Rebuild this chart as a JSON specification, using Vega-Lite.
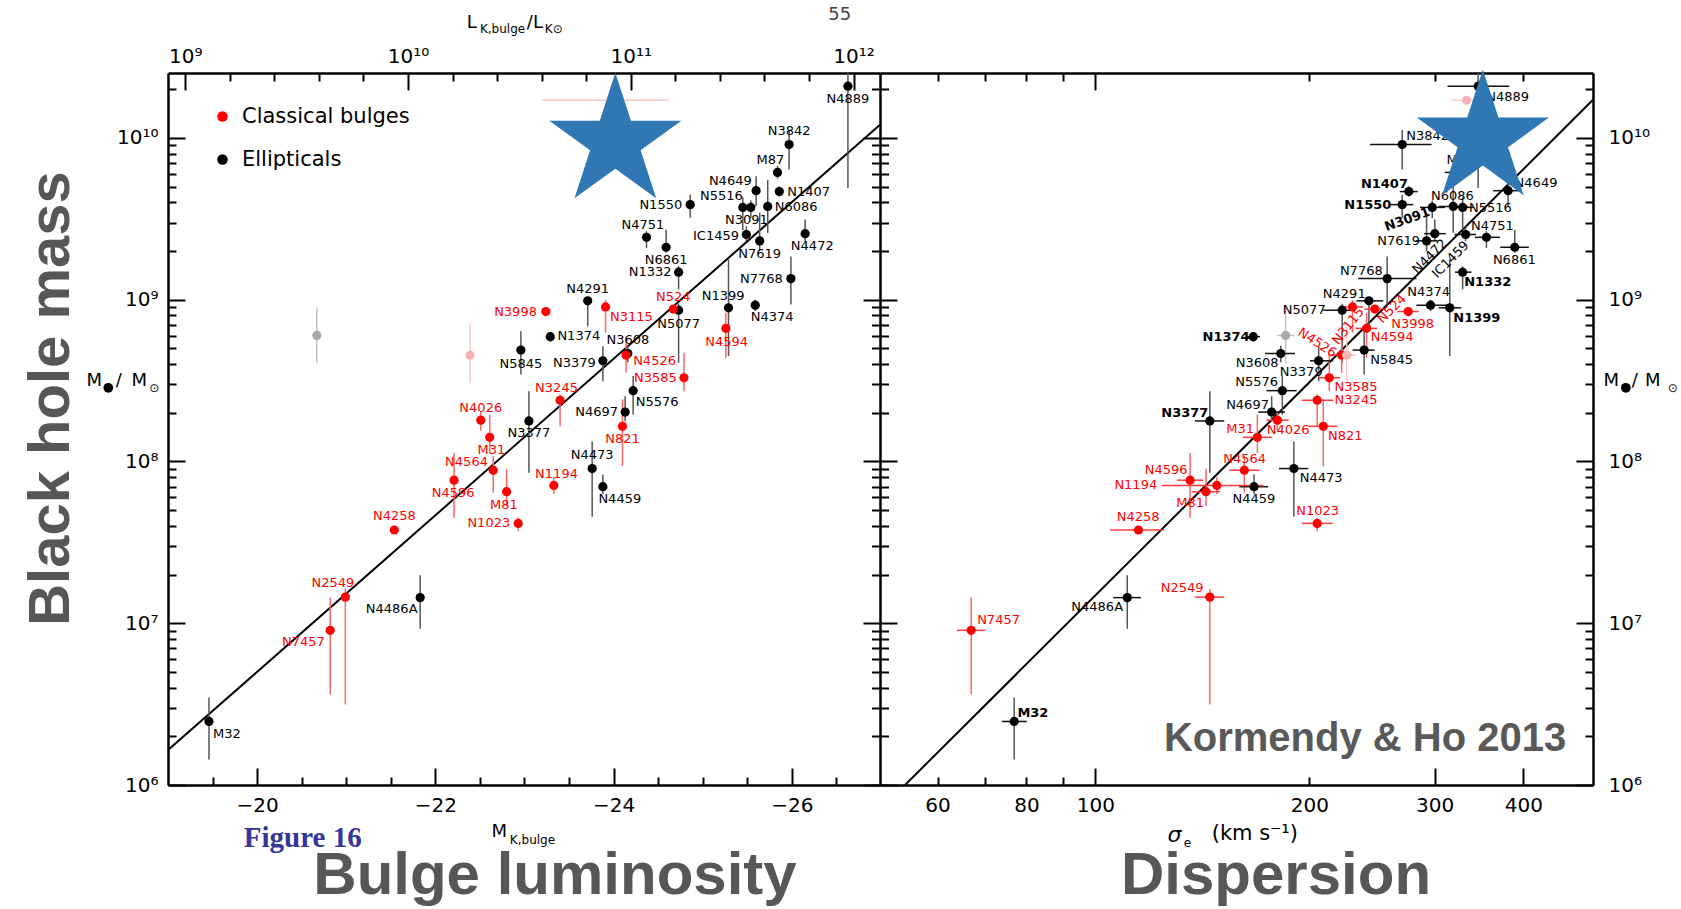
{
"$schema":"https://vega.github.io/schema/vega-lite/v6.json",
"width":1425,"height":712,
"autosize":{"type":"none"},
"padding":{"left":168,"top":73,"right":88,"bottom":124},
"background":"#ffffff",
"config":{"view":{"stroke":null},
"axis":{"domainColor":"#000000","domainWidth":2.5,"tickColor":"#000000","tickWidth":2,"labelFont":"DejaVu Sans","labelFontSize":20,"labelColor":"#000000","grid":false,"labelFlush":false,"labelOverlap":false,"labelBound":false,"titleColor":"#575757"}},
"datasets":{
"gal":[
{"n":"N4889","c":"E","mk":-26.63,"s":345.4,"s0":312.8,"s1":381.9,"m":2.09e10,"m0":4.9e9,"m1":3.7e10,"lx":-26.63,"ly":1.73e10,"rx":380.0,"ry":1.79e10},
{"n":"N3842","c":"E","mk":-25.97,"s":270.1,"s0":243.3,"s1":297.1,"m":9.1e9,"m0":6.37e9,"m1":1.12e10,"lx":-25.97,"ly":1.10e10,"rx":293.3,"ry":1.03e10},
{"n":"M87","c":"E","mk":-25.84,"s":324,"s0":310,"s1":338,"m":6.12e9,"m0":5.6e9,"m1":6.7e9,"lx":-25.76,"ly":7.35e9,"rx":326.2,"ry":7.35e9},
{"n":"N4649","c":"E","mk":-25.60,"s":380.6,"s0":362.6,"s1":397.4,"m":4.72e9,"m0":3.78e9,"m1":5.79e9,"lx":-25.31,"ly":5.45e9,"rx":416.6,"ry":5.27e9},
{"n":"N1407","c":"E","mk":-25.86,"s":276.0,"s0":268,"s1":284,"m":4.66e9,"m0":4.35e9,"m1":5.02e9,"lx":-26.19,"ly":4.64e9,"rx":255.0,"ry":5.2e9},
{"n":"N5516","c":"E","mk":-25.45,"s":328.5,"s0":317,"s1":340,"m":3.72e9,"m0":2.7e9,"m1":4.3e9,"lx":-25.21,"ly":4.36e9,"rx":359.3,"ry":3.7e9},
{"n":"N3091","c":"E","mk":-25.54,"s":297.7,"s0":286.1,"s1":310.1,"m":3.72e9,"m0":3.2e9,"m1":4.1e9,"lx":-25.49,"ly":3.1e9,"rx":274.5,"ry":3.13e9},
{"n":"N6086","c":"E","mk":-25.73,"s":318.6,"s0":304,"s1":334,"m":3.77e9,"m0":2.59e9,"m1":5.51e9,"lx":-26.05,"ly":3.75e9,"rx":317.7,"ry":4.4e9},
{"n":"N1550","c":"E","mk":-24.86,"s":270.1,"s0":259.5,"s1":279.9,"m":3.87e9,"m0":3.21e9,"m1":4.46e9,"lx":-24.53,"ly":3.87e9,"rx":241.7,"ry":3.87e9},
{"n":"N4751","c":"E","mk":-24.37,"s":354.8,"s0":341.7,"s1":370.6,"m":2.43e9,"m0":2.09e9,"m1":2.65e9,"lx":-24.33,"ly":2.88e9,"rx":361.7,"ry":2.84e9},
{"n":"N6861","c":"E","mk":-24.59,"s":388.9,"s0":371,"s1":407,"m":2.11e9,"m0":1.95e9,"m1":2.71e9,"lx":-24.59,"ly":1.77e9,"rx":388.3,"ry":1.75e9},
{"n":"IC1459","c":"E","mk":-25.49,"s":331.7,"s0":320,"s1":343,"m":2.53e9,"m0":2.3e9,"m1":2.84e9,"lx":-25.15,"ly":2.47e9,"rx":315.9,"ry":1.77e9},
{"n":"N7619","c":"E","mk":-25.64,"s":292.3,"s0":282,"s1":303,"m":2.31e9,"m0":2.0e9,"m1":3.44e9,"lx":-25.64,"ly":1.92e9,"rx":267.0,"ry":2.3e9},
{"n":"N4472","c":"E","mk":-26.15,"s":300.2,"s0":290,"s1":311,"m":2.56e9,"m0":2.3e9,"m1":3.13e9,"lx":-26.23,"ly":2.14e9,"rx":295.4,"ry":1.85e9},
{"n":"N1332","c":"E","mk":-24.73,"s":328.5,"s0":320.4,"s1":338.1,"m":1.48e9,"m0":1.16e9,"m1":1.61e9,"lx":-24.41,"ly":1.48e9,"rx":356.3,"ry":1.28e9},
{"n":"N7768","c":"E","mk":-25.99,"s":257.3,"s0":234.2,"s1":282.9,"m":1.35e9,"m0":9.33e8,"m1":1.85e9,"lx":-25.66,"ly":1.35e9,"rx":236.6,"ry":1.51e9},
{"n":"N1399","c":"E","mk":-25.29,"s":315.1,"s0":304,"s1":327,"m":8.91e8,"m0":4.48e8,"m1":1.77e9,"lx":-25.23,"ly":1.06e9,"rx":344.0,"ry":7.73e8},
{"n":"N4374","c":"E","mk":-25.59,"s":296.1,"s0":282.9,"s1":315.1,"m":9.25e8,"m0":8.5e8,"m1":1.0e9,"lx":-25.78,"ly":7.8e8,"rx":294.2,"ry":1.12e9},
{"n":"N5077","c":"E","mk":-24.73,"s":222.4,"s0":209.2,"s1":230.5,"m":8.61e8,"m0":4.07e8,"m1":9.45e8,"lx":-24.73,"ly":7.1e8,"rx":196.7,"ry":8.61e8},
{"n":"N4291","c":"E","mk":-23.71,"s":242.5,"s0":233.0,"s1":254.0,"m":9.84e8,"m0":6.85e8,"m1":1.03e9,"lx":-23.71,"ly":1.17e9,"rx":223.9,"ry":1.09e9},
{"n":"N1374","c":"E","mk":-23.29,"s":166.8,"s0":163,"s1":170.5,"m":5.91e8,"m0":5.5e8,"m1":6.3e8,"lx":-23.61,"ly":5.94e8,"rx":152.7,"ry":5.9e8},
{"n":"N5845","c":"E","mk":-22.96,"s":238.8,"s0":230,"s1":247,"m":4.88e8,"m0":3.45e8,"m1":6.38e8,"lx":-22.96,"ly":4.03e8,"rx":261.0,"ry":4.23e8},
{"n":"N3379","c":"E","mk":-23.88,"s":206.1,"s0":200.4,"s1":216.0,"m":4.19e8,"m0":3.13e8,"m1":5.15e8,"lx":-23.56,"ly":4.07e8,"rx":194.8,"ry":3.58e8},
{"n":"N3608","c":"E","mk":-24.16,"s":182.3,"s0":173.2,"s1":190.9,"m":4.65e8,"m0":4.1e8,"m1":5.2e8,"lx":-24.16,"ly":5.6e8,"rx":168.9,"ry":4.07e8},
{"n":"N5576","c":"E","mk":-24.22,"s":183.2,"s0":174.1,"s1":191.9,"m":2.74e8,"m0":1.95e8,"m1":3.37e8,"lx":-24.49,"ly":2.32e8,"rx":168.6,"ry":3.1e8},
{"n":"N4697","c":"E","mk":-24.13,"s":177.0,"s0":169.5,"s1":184.8,"m":2.02e8,"m0":1.77e8,"m1":2.53e8,"lx":-23.81,"ly":2.03e8,"rx":163.7,"ry":2.23e8},
{"n":"N3377","c":"E","mk":-23.05,"s":144.9,"s0":138.1,"s1":151.8,"m":1.78e8,"m0":8.51e7,"m1":2.72e8,"lx":-23.05,"ly":1.49e8,"rx":133.6,"ry":2.0e8},
{"n":"N4473","c":"E","mk":-23.76,"s":190.2,"s0":181.2,"s1":199.3,"m":9.04e7,"m0":4.55e7,"m1":1.33e8,"lx":-23.76,"ly":1.09e8,"rx":207.8,"ry":7.85e7},
{"n":"N4459","c":"E","mk":-23.88,"s":167.2,"s0":159.4,"s1":175.0,"m":6.98e7,"m0":6.28e7,"m1":8.32e7,"lx":-24.07,"ly":5.82e7,"rx":167.1,"ry":5.82e7},
{"n":"N4486A","c":"E","mk":-21.83,"s":110.9,"s0":106.0,"s1":115.9,"m":1.44e7,"m0":9.25e6,"m1":1.98e7,"lx":-21.51,"ly":1.23e7,"rx":100.6,"ry":1.26e7},
{"n":"M32","c":"E","mk":-19.46,"s":76.9,"s0":73.9,"s1":80.1,"m":2.47e6,"m0":1.44e6,"m1":3.47e6,"lx":-19.66,"ly":2.08e6,"rx":81.7,"ry":2.8e6},
{"n":"N3998","c":"C","mk":-23.24,"s":275.4,"s0":266,"s1":285,"m":8.45e8,"m0":7.9e8,"m1":9.0e8,"lx":-22.90,"ly":8.41e8,"rx":279.4,"ry":7.1e8},
{"n":"N3115","c":"C","mk":-23.91,"s":230.0,"s0":222,"s1":238,"m":9.02e8,"m0":6.24e8,"m1":9.96e8,"lx":-24.20,"ly":7.8e8,"rx":226.8,"ry":6.86e8},
{"n":"N524","c":"C","mk":-24.67,"s":247.2,"s0":239,"s1":256,"m":8.75e8,"m0":8.3e8,"m1":9.2e8,"lx":-24.67,"ly":1.04e9,"rx":261.2,"ry":8.77e8},
{"n":"N4594","c":"C","mk":-25.26,"s":240.7,"s0":232,"s1":249,"m":6.65e8,"m0":4.38e8,"m1":8.3e8,"lx":-25.27,"ly":5.46e8,"rx":261.4,"ry":5.89e8},
{"n":"N4526","c":"C","mk":-24.14,"s":222.0,"s0":214,"s1":230,"m":4.55e8,"m0":3.53e8,"m1":5.9e8,"lx":-24.46,"ly":4.17e8,"rx":205.1,"ry":5.41e8},
{"n":"N3585","c":"C","mk":-24.79,"s":213.3,"s0":206,"s1":221,"m":3.29e8,"m0":2.72e8,"m1":4.7e8,"lx":-24.47,"ly":3.29e8,"rx":232.6,"ry":2.88e8},
{"n":"N3245","c":"C","mk":-23.40,"s":205.1,"s0":195.1,"s1":216.0,"m":2.39e8,"m0":1.65e8,"m1":2.6e8,"lx":-23.36,"ly":2.85e8,"rx":232.6,"ry":2.39e8},
{"n":"N821","c":"C","mk":-24.10,"s":209.2,"s0":199.3,"s1":218.8,"m":1.65e8,"m0":9.35e7,"m1":2.42e8,"lx":-24.10,"ly":1.37e8,"rx":224.7,"ry":1.43e8},
{"n":"N4026","c":"C","mk":-22.51,"s":180.3,"s0":174,"s1":187,"m":1.8e8,"m0":1.55e8,"m1":2.05e8,"lx":-22.51,"ly":2.15e8,"rx":186.7,"ry":1.56e8},
{"n":"M31","c":"C","mk":-22.61,"s":169.0,"s0":161.3,"s1":177.2,"m":1.41e8,"m0":1.13e8,"m1":1.95e8,"lx":-22.63,"ly":1.17e8,"rx":159.8,"ry":1.59e8},
{"n":"N4564","c":"C","mk":-22.65,"s":162.0,"s0":154.3,"s1":170.1,"m":8.83e7,"m0":6.41e7,"m1":1.08e8,"lx":-22.35,"ly":9.91e7,"rx":162.2,"ry":1.04e8},
{"n":"N4596","c":"C","mk":-22.21,"s":135.9,"s0":130.2,"s1":141.8,"m":7.66e7,"m0":4.49e7,"m1":1.13e8,"lx":-22.20,"ly":6.41e7,"rx":125.8,"ry":8.83e7},
{"n":"M81","c":"C","mk":-22.80,"s":143.1,"s0":136.7,"s1":149.7,"m":6.5e7,"m0":5.3e7,"m1":9.0e7,"lx":-22.77,"ly":5.35e7,"rx":135.9,"ry":5.5e7},
{"n":"N1194","c":"C","mk":-23.33,"s":148.2,"s0":124.0,"s1":172.2,"m":7.11e7,"m0":6.3e7,"m1":8.0e7,"lx":-23.36,"ly":8.32e7,"rx":114.0,"ry":7.11e7},
{"n":"N1023","c":"C","mk":-22.93,"s":205.1,"s0":195.1,"s1":215.6,"m":4.14e7,"m0":3.7e7,"m1":4.5e7,"lx":-22.60,"ly":4.14e7,"rx":205.4,"ry":4.93e7},
{"n":"N4258","c":"C","mk":-21.54,"s":115.0,"s0":104.9,"s1":124.9,"m":3.77e7,"m0":3.7e7,"m1":3.85e7,"lx":-21.54,"ly":4.59e7,"rx":114.9,"ry":4.55e7},
{"n":"N2549","c":"C","mk":-20.99,"s":144.9,"s0":138.1,"s1":151.8,"m":1.45e7,"m0":3.15e6,"m1":1.63e7,"lx":-20.85,"ly":1.78e7,"rx":132.5,"ry":1.66e7},
{"n":"N7457","c":"C","mk":-20.82,"s":66.9,"s0":63.9,"s1":70.0,"m":9.04e6,"m0":3.63e6,"m1":1.44e7,"lx":-20.52,"ly":7.69e6,"rx":73.1,"ry":1.04e7},
{"n":"excluded-1","c":"Ex","mk":-20.67,"s":185.2,"s0":180,"s1":190.5,"m":6.01e8,"m0":4.04e8,"m1":8.91e8},
{"n":"excluded-2","c":"Cx","mk":-22.39,"s":225.6,"s0":219.5,"s1":233.0,"m":4.54e8,"m0":3.06e8,"m1":7.19e8},
{"n":"excluded-3","c":"Cx","mk":-24.02,"k0":-23.2,"k1":-24.62,"s":332.7,"s0":316.9,"s1":349.2,"m":1.71e10}
],
"fitL":[{"mk":-19,"m":1.644e6},{"mk":-26.99,"m":1.205e10}],
"fitR":[{"s":54.0,"m":1e6},{"s":501,"m":1.72e10}],
"star":[{"p":"L","mk":-24.02,"m":9.42e9},{"p":"R","s":350.7,"m":9.84e9}],
"dots":[{"p":"L","mk":-18.33,"m":2.854e8},{"p":"R","s":557.2,"m":2.854e8}],
"ax":[{"mk":-20,"lk":1e9,"s":100,"m":1e8}],
"tL18":[{"t":"M","mk":-18.0855,"m":2.915e8},{"t":"/","mk":-18.4143,"m":2.915e8},{"t":"M","mk":-18.5905,"m":2.915e8},{"t":"L","mk":-22.353,"m":4.76e10},{"t":"/L","mk":-23.0266,"m":4.76e10},{"t":"M","mk":-22.63,"m":4.8e5}],
"tL12":[{"t":"⊙","mk":-18.7903,"m":2.676e8},{"t":"K,bulge","mk":-22.50,"m":4.44e10},{"t":"K⊙","mk":-23.2286,"m":4.44e10},{"t":"K,bulge","mk":-22.836,"m":4.3e5}],
"tR18":[{"t":"M","s":518.2,"m":2.915e8},{"t":"/","s":567.9,"m":2.915e8},{"t":"M","s":592.9,"m":2.915e8}],
"tR12":[{"t":"⊙","s":638.3,"m":2.676e8},{"t":"e","s":133.2,"m":4.16e5}]
},
"layer":[
{"layer":[
 {"data":{"name":"fitL"},"mark":{"type":"line","color":"#000000","strokeWidth":2},
  "encoding":{"x":{"field":"mk","type":"quantitative","scale":{"domain":[-19,-26.99],"range":[0,712],"nice":false,"zero":false},"axis":null},
   "y":{"field":"m","type":"quantitative","scale":{"type":"log","domain":[1000000,25200000000],"nice":false},"axis":null}}},
 {"data":{"name":"gal"},"transform":[{"filter":"isValid(datum.m0)"}],"mark":{"type":"rule","strokeWidth":1.5,"clip":true},
  "encoding":{"x":{"field":"mk","type":"quantitative","scale":{"domain":[-19,-26.99],"range":[0,712],"nice":false,"zero":false},"axis":null},
   "y":{"field":"m0","type":"quantitative","scale":{"type":"log","domain":[1000000,25200000000],"nice":false},"axis":null},
   "y2":{"field":"m1"},
   "color":{"condition":[{"test":"datum.c=='C'","value":"#ff6666"},{"test":"datum.c=='Cx'","value":"#f9c9c9"},{"test":"datum.c=='Ex'","value":"#c4c4c4"}],"value":"#555555"}}},
 {"data":{"name":"gal"},"transform":[{"filter":"isValid(datum.k0)"}],"mark":{"type":"rule","strokeWidth":1.5,"color":"#f9c9c9"},
  "encoding":{"x":{"field":"k0","type":"quantitative","scale":{"domain":[-19,-26.99],"range":[0,712],"nice":false,"zero":false},"axis":null},
   "x2":{"field":"k1"},
   "y":{"field":"m","type":"quantitative","scale":{"type":"log","domain":[1000000,25200000000],"nice":false},"axis":null}}},
 {"data":{"name":"gal"},"mark":{"type":"point","filled":true,"size":85,"opacity":1},
  "encoding":{"x":{"field":"mk","type":"quantitative","scale":{"domain":[-19,-26.99],"range":[0,712],"nice":false,"zero":false},"axis":null},
   "y":{"field":"m","type":"quantitative","scale":{"type":"log","domain":[1000000,25200000000],"nice":false},"axis":null},
   "color":{"field":"c","type":"nominal","scale":{"domain":["C","E","Cx","Ex"],"range":["#ff0000","#000000","#f7b3b3","#a9a9a9"]},
    "legend":{"orient":"none","legendX":44,"legendY":33,"values":["C","E"],"labelExpr":"datum.value == 'C' ? 'Classical bulges' : 'Ellipticals'","title":null,"symbolType":"circle","symbolSize":110,"symbolStrokeWidth":0,"labelFont":"DejaVu Sans","labelFontSize":21,"labelOffset":9,"rowPadding":21,"padding":0,"labelLimit":400,
     "encode":{"labels":{"update":{"fill":{"signal":"datum.value === 'C' ? '#ff0000' : '#000000'"}}}}}}}},
 {"data":{"name":"gal"},"transform":[{"filter":"isValid(datum.lx)"}],"mark":{"type":"text","font":"DejaVu Sans","fontSize":13,"align":"center","baseline":"middle"},
  "encoding":{"x":{"field":"lx","type":"quantitative","scale":{"domain":[-19,-26.99],"range":[0,712],"nice":false,"zero":false},"axis":null},
   "y":{"field":"ly","type":"quantitative","scale":{"type":"log","domain":[1000000,25200000000],"nice":false},"axis":null},
   "text":{"field":"n"},
   "color":{"condition":{"test":"datum.c=='C'","value":"#ff0000"},"value":"#000000"}}},
 {"data":{"name":"star"},"transform":[{"filter":"datum.p=='L'"}],
  "mark":{"type":"point","shape":"M0,-1L0.2245,-0.309L0.9511,-0.309L0.3633,0.118L0.5878,0.809L0,0.382L-0.5878,0.809L-0.3633,0.118L-0.9511,-0.309L-0.2245,-0.309Z","filled":true,"size":19321,"color":"#2f78b4","opacity":1},
  "encoding":{"x":{"field":"mk","type":"quantitative","scale":{"domain":[-19,-26.99],"range":[0,712],"nice":false,"zero":false},"axis":null},
   "y":{"field":"m","type":"quantitative","scale":{"type":"log","domain":[1000000,25200000000],"nice":false},"axis":null}}},
 {"data":{"name":"tL18"},"mark":{"type":"text","font":"DejaVu Sans","fontSize":18,"align":"left","baseline":"alphabetic","color":"#000000"},
  "encoding":{"x":{"field":"mk","type":"quantitative","scale":{"domain":[-19,-26.99],"range":[0,712],"nice":false,"zero":false},"axis":null},
   "y":{"field":"m","type":"quantitative","scale":{"type":"log","domain":[1000000,25200000000],"nice":false},"axis":null},"text":{"field":"t"}}},
 {"data":{"name":"tL12"},"mark":{"type":"text","font":"DejaVu Sans","fontSize":12,"align":"left","baseline":"alphabetic","color":"#000000"},
  "encoding":{"x":{"field":"mk","type":"quantitative","scale":{"domain":[-19,-26.99],"range":[0,712],"nice":false,"zero":false},"axis":null},
   "y":{"field":"m","type":"quantitative","scale":{"type":"log","domain":[1000000,25200000000],"nice":false},"axis":null},"text":{"field":"t"}}},
 {"data":{"name":"dots"},"transform":[{"filter":"datum.p=='L'"}],"mark":{"type":"point","filled":true,"size":95,"color":"#000000","opacity":1},
  "encoding":{"x":{"field":"mk","type":"quantitative","scale":{"domain":[-19,-26.99],"range":[0,712],"nice":false,"zero":false},"axis":null},
   "y":{"field":"m","type":"quantitative","scale":{"type":"log","domain":[1000000,25200000000],"nice":false},"axis":null}}},
 {"data":{"values":[{"t":"55","mk":-26.539,"m":5.33e10}]},"mark":{"type":"text","font":"DejaVu Sans","fontSize":18,"align":"center","baseline":"alphabetic","color":"#444444"},
  "encoding":{"x":{"field":"mk","type":"quantitative","scale":{"domain":[-19,-26.99],"range":[0,712],"nice":false,"zero":false},"axis":null},
   "y":{"field":"m","type":"quantitative","scale":{"type":"log","domain":[1000000,25200000000],"nice":false},"axis":null},"text":{"field":"t"}}},
 {"data":{"values":[{"t":"Figure 16","mk":-19.851,"m":4.12e5}]},"mark":{"type":"text","font":"Liberation Serif","fontSize":29,"fontWeight":"bold","align":"left","baseline":"alphabetic","color":"#35359a"},
  "encoding":{"x":{"field":"mk","type":"quantitative","scale":{"domain":[-19,-26.99],"range":[0,712],"nice":false,"zero":false},"axis":null},
   "y":{"field":"m","type":"quantitative","scale":{"type":"log","domain":[1000000,25200000000],"nice":false},"axis":null},"text":{"field":"t"}}},
 {"data":{"name":"ax"},"mark":{"type":"point","opacity":0},
  "encoding":{"x":{"field":"mk","type":"quantitative","scale":{"domain":[-19,-26.99],"range":[0,712],"nice":false,"zero":false},
    "axis":{"orient":"bottom","values":[-20,-22,-24,-26],"format":"d","tickSize":-17,"labelPadding":43,"labelBaseline":"alphabetic","domain":true,
     "title":"Bulge luminosity","titleX":386.5,"titleY":108,"titleAngle":0,"titleAlign":"center","titleBaseline":"alphabetic","titleFont":"Liberation Sans","titleFontWeight":"bold","titleFontSize":60,"titleColor":"#575757","titleLimit":1000}},
   "y":{"field":"m","type":"quantitative","scale":{"type":"log","domain":[1000000,25200000000],"nice":false},
    "axis":{"orient":"left","values":[1e6,1e7,1e8,1e9,1e10],"tickSize":-17,"labelPadding":27,"labelBaseline":"middle","labelAlign":"right",
     "labelExpr":"datum.value >= 1e10 ? '10¹⁰' : datum.value >= 1e9 ? '10⁹' : datum.value >= 1e8 ? '10⁸' : datum.value >= 1e7 ? '10⁷' : '10⁶'",
     "title":"Black hole mass","titleX":-100,"titleY":325,"titleAngle":270,"titleAlign":"center","titleBaseline":"alphabetic","titleFont":"Liberation Sans","titleFontWeight":"bold","titleFontSize":58,"titleColor":"#575757","titleLimit":1000}}}},
 {"data":{"name":"ax"},"mark":{"type":"point","opacity":0},
  "encoding":{"x":{"field":"mk","type":"quantitative","scale":{"domain":[-19,-26.99],"range":[0,712],"nice":false,"zero":false},
    "axis":{"orient":"bottom","values":[-19.5,-20.5,-21,-21.5,-22.5,-23,-23.5,-24.5,-25,-25.5,-26.5],"tickSize":-8,"labels":false,"domain":false,"title":null}},
   "y":{"field":"m","type":"quantitative","scale":{"type":"log","domain":[1000000,25200000000],"nice":false},
    "axis":{"orient":"left","values":[2e6,3e6,4e6,5e6,6e6,7e6,8e6,9e6,2e7,3e7,4e7,5e7,6e7,7e7,8e7,9e7,2e8,3e8,4e8,5e8,6e8,7e8,8e8,9e8,2e9,3e9,4e9,5e9,6e9,7e9,8e9,9e9,2e10],"tickSize":-8,"labels":false,"domain":false,"title":null}}}}
 ],
 "resolve":{"axis":{"x":"independent","y":"independent"}}},
{"layer":[
 {"data":{"name":"ax"},"mark":{"type":"point","opacity":0},
  "encoding":{"x":{"field":"lk","type":"quantitative","scale":{"type":"log","domain":[836500000,1314600000000],"range":[0,712],"nice":false},
    "axis":{"orient":"top","values":[1e9,1e10,1e11,1e12],"tickSize":-17,"labelPadding":28,"labelBaseline":"alphabetic","domain":true,"title":null,
     "labelExpr":"datum.value >= 1e12 ? '10¹²' : datum.value >= 1e11 ? '10¹¹' : datum.value >= 1e10 ? '10¹⁰' : '10⁹'"}},
   "y":{"field":"m","type":"quantitative","scale":{"type":"log","domain":[1000000,25200000000],"nice":false},
    "axis":{"orient":"right","offset":-730,"values":[1e6,1e7,1e8,1e9,1e10],"tickSize":34,"labels":false,"domain":false,"title":null}}}},
 {"data":{"name":"ax"},"mark":{"type":"point","opacity":0},
  "encoding":{"x":{"field":"lk","type":"quantitative","scale":{"type":"log","domain":[836500000,1314600000000],"range":[0,712],"nice":false},
    "axis":{"orient":"top","values":[1.585e9,2.512e9,3.981e9,6.31e9,1.585e10,2.512e10,3.981e10,6.31e10,1.585e11,2.512e11,3.981e11,6.31e11],"tickSize":-8,"labels":false,"domain":false,"title":null}},
   "y":{"field":"m","type":"quantitative","scale":{"type":"log","domain":[1000000,25200000000],"nice":false},
    "axis":{"orient":"right","offset":-721.5,"values":[2e6,3e6,4e6,5e6,6e6,7e6,8e6,9e6,2e7,3e7,4e7,5e7,6e7,7e7,8e7,9e7,2e8,3e8,4e8,5e8,6e8,7e8,8e8,9e8,2e9,3e9,4e9,5e9,6e9,7e9,8e9,9e9,2e10],"tickSize":17,"labels":false,"domain":false,"title":null}}}}
 ],
 "resolve":{"axis":{"x":"independent","y":"independent"}}},
{"layer":[
 {"data":{"name":"fitR"},"mark":{"type":"line","color":"#000000","strokeWidth":2},
  "encoding":{"x":{"field":"s","type":"quantitative","scale":{"type":"log","domain":[49.8,501],"range":[712,1425],"nice":false},"axis":null},
   "y":{"field":"m","type":"quantitative","scale":{"type":"log","domain":[1000000,25200000000],"nice":false},"axis":null}}},
 {"data":{"name":"gal"},"transform":[{"filter":"isValid(datum.m0)"}],"mark":{"type":"rule","strokeWidth":1.5,"clip":true},
  "encoding":{"x":{"field":"s","type":"quantitative","scale":{"type":"log","domain":[49.8,501],"range":[712,1425],"nice":false},"axis":null},
   "y":{"field":"m0","type":"quantitative","scale":{"type":"log","domain":[1000000,25200000000],"nice":false},"axis":null},
   "y2":{"field":"m1"},
   "color":{"condition":[{"test":"datum.c=='C'","value":"#ff6666"},{"test":"datum.c=='Cx'","value":"#f9c9c9"},{"test":"datum.c=='Ex'","value":"#c4c4c4"}],"value":"#555555"}}},
 {"data":{"name":"gal"},"transform":[{"filter":"isValid(datum.s0)"}],"mark":{"type":"rule","strokeWidth":1.5,"clip":true},
  "encoding":{"x":{"field":"s0","type":"quantitative","scale":{"type":"log","domain":[49.8,501],"range":[712,1425],"nice":false},"axis":null},
   "x2":{"field":"s1"},
   "y":{"field":"m","type":"quantitative","scale":{"type":"log","domain":[1000000,25200000000],"nice":false},"axis":null},
   "color":{"condition":[{"test":"datum.c=='C'","value":"#ff3b3b"},{"test":"datum.c=='Cx'","value":"#f9c9c9"},{"test":"datum.c=='Ex'","value":"#c4c4c4"}],"value":"#111111"}}},
 {"data":{"name":"gal"},"mark":{"type":"point","filled":true,"size":85,"opacity":1},
  "encoding":{"x":{"field":"s","type":"quantitative","scale":{"type":"log","domain":[49.8,501],"range":[712,1425],"nice":false},"axis":null},
   "y":{"field":"m","type":"quantitative","scale":{"type":"log","domain":[1000000,25200000000],"nice":false},"axis":null},
   "color":{"condition":[{"test":"datum.c=='C'","value":"#ff0000"},{"test":"datum.c=='Cx'","value":"#f7b3b3"},{"test":"datum.c=='Ex'","value":"#a9a9a9"}],"value":"#000000"}}},
 {"data":{"name":"gal"},"transform":[{"filter":"isValid(datum.rx) && indexof(['N3091','N4472','IC1459','N524','N3115','N4526','N1407','N1550','N1332','N1399','N1374','N3377','M32'], datum.n) < 0"}],
  "mark":{"type":"text","font":"DejaVu Sans","fontSize":13,"align":"center","baseline":"middle"},
  "encoding":{"x":{"field":"rx","type":"quantitative","scale":{"type":"log","domain":[49.8,501],"range":[712,1425],"nice":false},"axis":null},
   "y":{"field":"ry","type":"quantitative","scale":{"type":"log","domain":[1000000,25200000000],"nice":false},"axis":null},
   "text":{"field":"n"},"color":{"condition":{"test":"datum.c=='C'","value":"#ff0000"},"value":"#000000"}}},
 {"data":{"name":"gal"},"transform":[{"filter":"indexof(['N1407','N1550','N1332','N1399','N1374','N3377','M32'], datum.n) >= 0"}],
  "mark":{"type":"text","font":"DejaVu Sans","fontSize":13,"fontWeight":"bold","align":"center","baseline":"middle","color":"#000000"},
  "encoding":{"x":{"field":"rx","type":"quantitative","scale":{"type":"log","domain":[49.8,501],"range":[712,1425],"nice":false},"axis":null},
   "y":{"field":"ry","type":"quantitative","scale":{"type":"log","domain":[1000000,25200000000],"nice":false},"axis":null},"text":{"field":"n"}}},
 {"data":{"name":"gal"},"transform":[{"filter":"datum.n == 'N3091'"}],
  "mark":{"type":"text","font":"DejaVu Sans","fontSize":13,"fontWeight":"bold","align":"center","baseline":"middle","color":"#000000","angle":-20},
  "encoding":{"x":{"field":"rx","type":"quantitative","scale":{"type":"log","domain":[49.8,501],"range":[712,1425],"nice":false},"axis":null},
   "y":{"field":"ry","type":"quantitative","scale":{"type":"log","domain":[1000000,25200000000],"nice":false},"axis":null},"text":{"field":"n"}}},
 {"data":{"name":"gal"},"transform":[{"filter":"indexof(['N4472','IC1459','N524'], datum.n) >= 0"}],
  "mark":{"type":"text","font":"DejaVu Sans","fontSize":13,"align":"center","baseline":"middle","angle":-45},
  "encoding":{"x":{"field":"rx","type":"quantitative","scale":{"type":"log","domain":[49.8,501],"range":[712,1425],"nice":false},"axis":null},
   "y":{"field":"ry","type":"quantitative","scale":{"type":"log","domain":[1000000,25200000000],"nice":false},"axis":null},
   "text":{"field":"n"},"color":{"condition":{"test":"datum.c=='C'","value":"#ff0000"},"value":"#000000"}}},
 {"data":{"name":"gal"},"transform":[{"filter":"datum.n == 'N3115'"}],
  "mark":{"type":"text","font":"DejaVu Sans","fontSize":13,"align":"center","baseline":"middle","angle":-52,"color":"#ff0000"},
  "encoding":{"x":{"field":"rx","type":"quantitative","scale":{"type":"log","domain":[49.8,501],"range":[712,1425],"nice":false},"axis":null},
   "y":{"field":"ry","type":"quantitative","scale":{"type":"log","domain":[1000000,25200000000],"nice":false},"axis":null},"text":{"field":"n"}}},
 {"data":{"name":"gal"},"transform":[{"filter":"datum.n == 'N4526'"}],
  "mark":{"type":"text","font":"DejaVu Sans","fontSize":13,"align":"center","baseline":"middle","angle":33,"color":"#ff0000"},
  "encoding":{"x":{"field":"rx","type":"quantitative","scale":{"type":"log","domain":[49.8,501],"range":[712,1425],"nice":false},"axis":null},
   "y":{"field":"ry","type":"quantitative","scale":{"type":"log","domain":[1000000,25200000000],"nice":false},"axis":null},"text":{"field":"n"}}},
 {"data":{"name":"star"},"transform":[{"filter":"datum.p=='R'"}],
  "mark":{"type":"point","shape":"M0,-1L0.2245,-0.309L0.9511,-0.309L0.3633,0.118L0.5878,0.809L0,0.382L-0.5878,0.809L-0.3633,0.118L-0.9511,-0.309L-0.2245,-0.309Z","filled":true,"size":19321,"color":"#2f78b4","opacity":1},
  "encoding":{"x":{"field":"s","type":"quantitative","scale":{"type":"log","domain":[49.8,501],"range":[712,1425],"nice":false},"axis":null},
   "y":{"field":"m","type":"quantitative","scale":{"type":"log","domain":[1000000,25200000000],"nice":false},"axis":null}}},
 {"data":{"values":[{"t":"Kormendy & Ho 2013","s":239.5,"m":1.62e6}]},"mark":{"type":"text","font":"Liberation Sans","fontSize":40,"fontWeight":"bold","align":"center","baseline":"alphabetic","color":"#595959"},
  "encoding":{"x":{"field":"s","type":"quantitative","scale":{"type":"log","domain":[49.8,501],"range":[712,1425],"nice":false},"axis":null},
   "y":{"field":"m","type":"quantitative","scale":{"type":"log","domain":[1000000,25200000000],"nice":false},"axis":null},"text":{"field":"t"}}},
 {"data":{"name":"tR18"},"mark":{"type":"text","font":"DejaVu Sans","fontSize":18,"align":"left","baseline":"alphabetic","color":"#000000"},
  "encoding":{"x":{"field":"s","type":"quantitative","scale":{"type":"log","domain":[49.8,501],"range":[712,1425],"nice":false},"axis":null},
   "y":{"field":"m","type":"quantitative","scale":{"type":"log","domain":[1000000,25200000000],"nice":false},"axis":null},"text":{"field":"t"}}},
 {"data":{"name":"tR12"},"mark":{"type":"text","font":"DejaVu Sans","fontSize":12,"align":"left","baseline":"alphabetic","color":"#000000"},
  "encoding":{"x":{"field":"s","type":"quantitative","scale":{"type":"log","domain":[49.8,501],"range":[712,1425],"nice":false},"axis":null},
   "y":{"field":"m","type":"quantitative","scale":{"type":"log","domain":[1000000,25200000000],"nice":false},"axis":null},"text":{"field":"t"}}},
 {"data":{"values":[{"t":"σ","s":126.3,"m":4.45e5}]},"mark":{"type":"text","font":"DejaVu Sans","fontSize":22,"fontStyle":"italic","align":"left","baseline":"alphabetic","color":"#000000"},
  "encoding":{"x":{"field":"s","type":"quantitative","scale":{"type":"log","domain":[49.8,501],"range":[712,1425],"nice":false},"axis":null},
   "y":{"field":"m","type":"quantitative","scale":{"type":"log","domain":[1000000,25200000000],"nice":false},"axis":null},"text":{"field":"t"}}},
 {"data":{"values":[{"t":"(km  s⁻¹)","s":145.8,"m":4.55e5}]},"mark":{"type":"text","font":"DejaVu Sans","fontSize":21,"align":"left","baseline":"alphabetic","color":"#000000"},
  "encoding":{"x":{"field":"s","type":"quantitative","scale":{"type":"log","domain":[49.8,501],"range":[712,1425],"nice":false},"axis":null},
   "y":{"field":"m","type":"quantitative","scale":{"type":"log","domain":[1000000,25200000000],"nice":false},"axis":null},"text":{"field":"t"}}},
 {"data":{"name":"dots"},"transform":[{"filter":"datum.p=='R'"}],"mark":{"type":"point","filled":true,"size":95,"color":"#000000","opacity":1},
  "encoding":{"x":{"field":"s","type":"quantitative","scale":{"type":"log","domain":[49.8,501],"range":[712,1425],"nice":false},"axis":null},
   "y":{"field":"m","type":"quantitative","scale":{"type":"log","domain":[1000000,25200000000],"nice":false},"axis":null}}},
 {"data":{"name":"ax"},"mark":{"type":"point","opacity":0},
  "encoding":{"x":{"field":"s","type":"quantitative","scale":{"type":"log","domain":[49.8,501],"range":[712,1425],"nice":false},
    "axis":{"orient":"bottom","values":[100,300,400],"format":"d","tickSize":-17,"labelPadding":43,"labelBaseline":"alphabetic","domain":true,
     "title":"Dispersion","titleX":1107.5,"titleY":108,"titleAngle":0,"titleAlign":"center","titleBaseline":"alphabetic","titleFont":"Liberation Sans","titleFontWeight":"bold","titleFontSize":60,"titleColor":"#575757","titleLimit":1000}},
   "y":{"field":"m","type":"quantitative","scale":{"type":"log","domain":[1000000,25200000000],"nice":false},
    "axis":{"orient":"right","values":[1e6,1e7,1e8,1e9,1e10],"tickSize":-17,"labelPadding":32,"labelBaseline":"middle","labelAlign":"left","domain":true,"title":null,
     "labelExpr":"datum.value >= 1e10 ? '10¹⁰' : datum.value >= 1e9 ? '10⁹' : datum.value >= 1e8 ? '10⁸' : datum.value >= 1e7 ? '10⁷' : '10⁶'"}}}},
 {"data":{"name":"ax"},"mark":{"type":"point","opacity":0},
  "encoding":{"x":{"field":"s","type":"quantitative","scale":{"type":"log","domain":[49.8,501],"range":[712,1425],"nice":false},
    "axis":{"orient":"bottom","values":[60,70,80,90,200],"format":"d","tickSize":-8,"labelPadding":34,"labelBaseline":"alphabetic","domain":false,"title":null,
     "labelExpr":"datum.value == 70 || datum.value == 90 ? '' : datum.label"}},
   "y":{"field":"m","type":"quantitative","scale":{"type":"log","domain":[1000000,25200000000],"nice":false},
    "axis":{"orient":"right","values":[2e6,3e6,4e6,5e6,6e6,7e6,8e6,9e6,2e7,3e7,4e7,5e7,6e7,7e7,8e7,9e7,2e8,3e8,4e8,5e8,6e8,7e8,8e8,9e8,2e9,3e9,4e9,5e9,6e9,7e9,8e9,9e9,2e10],"tickSize":-8,"labels":false,"domain":false,"title":null}}}},
 {"data":{"name":"ax"},"mark":{"type":"point","opacity":0},
  "encoding":{"x":{"field":"s","type":"quantitative","scale":{"type":"log","domain":[49.8,501],"range":[712,1425],"nice":false},
    "axis":{"orient":"top","values":[100],"tickSize":-17,"labels":false,"domain":true,"title":null}},
   "y":{"field":"m","type":"quantitative","scale":{"type":"log","domain":[1000000,25200000000],"nice":false},
    "axis":{"orient":"left","offset":-712,"ticks":false,"labels":false,"domain":true,"title":null}}}},
 {"data":{"name":"ax"},"mark":{"type":"point","opacity":0},
  "encoding":{"x":{"field":"s","type":"quantitative","scale":{"type":"log","domain":[49.8,501],"range":[712,1425],"nice":false},
    "axis":{"orient":"top","values":[60,70,80,90,200,300,400],"tickSize":-8,"labels":false,"domain":false,"title":null}},
   "y":{"field":"m","type":"quantitative","scale":{"type":"log","domain":[1000000,25200000000],"nice":false},"axis":null}}}
 ],
 "resolve":{"axis":{"x":"independent","y":"independent"}}}
],
"resolve":{"scale":{"x":"independent"},"axis":{"x":"independent","y":"independent"}}
}
